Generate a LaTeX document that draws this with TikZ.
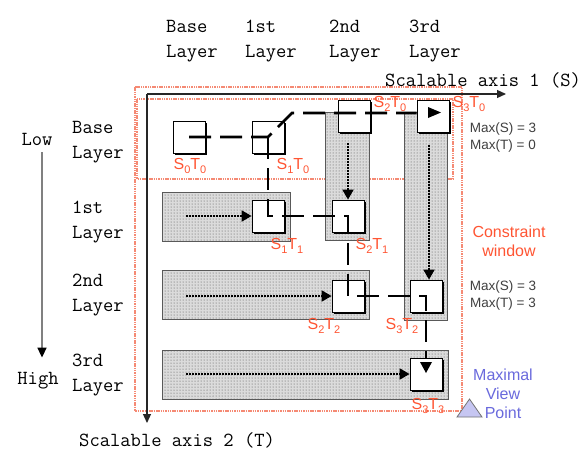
\documentclass[tikz,border=0pt]{standalone}
\usepackage{fontspec}
\newfontfamily\sansfont{Liberation Sans}
\usetikzlibrary{arrows.meta, shadows, patterns, calc}
\definecolor{redtag}{HTML}{FF5533}
\definecolor{winred}{HTML}{F58A74}
\definecolor{viewblue}{HTML}{6A6ADD}
\definecolor{viewfill}{HTML}{C6C6F2}
\definecolor{maxgray}{HTML}{404040}
\newcommand{\stl}[2]{S\raisebox{-4pt}{\fontsize{11}{11}\selectfont#1}T\raisebox{-4pt}{\fontsize{11}{11}\selectfont#2}}

\begin{document}
\begin{tikzpicture}[x=1pt, y=-1pt,
  stage/.style={draw=black, fill=white, minimum size=32pt, inner sep=0pt, line width=0.8pt,
    drop shadow={shadow xshift=2pt, shadow yshift=-2pt, fill=black, opacity=1}},
  band/.style={draw=black!65, line width=0.8pt, preaction={fill=black!14}, pattern=dots, pattern color=black!70},
  window/.style={color=winred, line width=1.1pt, dash pattern=on 1.5pt off 0.8pt},
  axis/.style={draw=black!85, line width=1.2pt, -{Triangle[length=9pt, width=8pt]}},
  route/.style={line width=2.8pt, dash pattern=on 22pt off 9pt},
  probe/.style={line width=1.8pt, dash pattern=on 1.5pt off 1.5pt, -{Triangle[length=10pt, width=11pt]}},
  mono/.style={font=\ttfamily\fontsize{20}{25}\selectfont, inner sep=0pt},
  layer/.style={mono, anchor=north west, align=left},
  tag/.style={text=redtag, font=\sansfont\fontsize{16}{18}\selectfont, inner sep=0pt},
  note/.style={font=\sansfont\fontsize{13.5}{17}\selectfont, text=maxgray, align=center, inner sep=0pt},
]

% Background
\fill[white] (0,0) rectangle (588,453);
\useasboundingbox (0,0) rectangle (588,453);

% Windows
\draw[window] (135,87) rectangle (462,411);
\draw[window] (137,99) rectangle (453,179);

% Layer headings (scalable axis 1)
\node[layer] (hs0) at (166,14.5) {\strut Base\\Layer};
\node[layer] (hs1) at (245,14.5) {\strut 1st\\Layer};
\node[layer] (hs2) at (329,14.5) {\strut 2nd\\Layer};
\node[layer] (hs3) at (409,14.5) {\strut 3rd\\Layer};

% Layer headings (scalable axis 2)
\node[layer] (ht0) at (72,115.5) {\strut Base\\Layer};
\node[layer] (ht1) at (72,195.5) {\strut 1st\\Layer};
\node[layer] (ht2) at (72,268.5) {\strut 2nd\\Layer};
\node[layer] (ht3) at (72,348.5) {\strut 3rd\\Layer};

% Low to high
\node[mono, anchor=base] (low) at (37,145) {Low};
\node[mono, anchor=base] (high) at (38,384) {High};
\draw[black!50, line width=1.6pt, shorten <=7pt, shorten >=14pt, -{Triangle[length=10pt, width=9pt, color=black]}]
  ([xshift=5pt]low.south) -- ([xshift=4pt]high.north);

% Axes
\coordinate (origin) at (147,94);
\coordinate (send) at (506,94);
\coordinate (tend) at (147,423);
\draw[axis] (origin) -- (send);
\draw[axis] (origin) -- (tend);
\node[mono, anchor=base west] (saxis) at (385,86) {Scalable axis 1 (S)};
\node[mono, anchor=base west] (taxis) at (79,446) {Scalable axis 2 (T)};

% Bands
\draw[band] (162,192) rectangle (290,241);
\draw[band] (162,270) rectangle (369,319);
\draw[band] (162,350) rectangle (448,399);
\draw[band] (325,112) rectangle (369,240);
\draw[band] (404,112) rectangle (447,320);

% Stages
\node[stage] (s0t0) at (189,137) {};
\node[stage] (s1t0) at (268,137) {};
\node[stage] (s2t0) at (354,116) {};
\node[stage] (s3t0) at (433,116) {};
\node[stage] (s1t1) at (268,216) {};
\node[stage] (s2t1) at (348,216) {};
\node[stage] (s2t2) at (348,296) {};
\node[stage] (s3t2) at (426,296) {};
\node[stage] (s3t3) at (426,374) {};

% Dotted scans
\coordinate (in1) at (186,216);
\coordinate (in2) at (186,296);
\coordinate (in3) at (186,374);
\draw[probe] (in1) -- (s1t1.west);
\draw[probe] (in2) -- (s2t2.west);
\draw[probe] (in3) -- (s3t3.west);
\draw[probe, shorten <=11pt] (s2t1.north |- s2t0.south) -- (s2t1.north);
\draw[probe, shorten <=13pt] ([xshift=3pt]s3t2.north |- s3t0.south) -- ([xshift=3pt]s3t2.north);

% Route
\coordinate (bend) at (292,113);
\draw[route] (s0t0.center) -- (s1t0.center) -- (bend) -- (bend -| s3t0.west);
\draw[route] (s1t0.center) -- (s1t1.center) -- (s2t1.center) -- (s2t2.center) -- (s3t2.center) -- (s3t2.center |- s3t3.north);
\fill ($(s3t0.center)+(-5,-9)$) -- ++(13,5.5) -- ++(-13,5.5) -- cycle;
\fill ($(s3t3.center)+(-6,-12)$) -- ++(12,0) -- ++(-6,11) -- cycle;

% Tags
\node[tag] (l00) at (190,166) {\stl{0}{0}};
\node[tag] (l10) at (293,166) {\stl{1}{0}};
\node[tag] (l20) at (390,104) {\stl{2}{0}};
\node[tag] (l30) at (469,104) {\stl{3}{0}};
\node[tag] (l11) at (287,246) {\stl{1}{1}};
\node[tag] (l21) at (372,246) {\stl{2}{1}};
\node[tag] (l22) at (324,326) {\stl{2}{2}};
\node[tag] (l32) at (402,326) {\stl{3}{2}};
\node[tag] (l33) at (428,406) {\stl{3}{3}};

% Notes
\node[note] (max0) at (503,138) {Max(S) = 3\\Max(T) = 0};
\node[note] (max3) at (503,295) {Max(S) = 3\\Max(T) = 3};
\node[note, text=redtag, font=\sansfont\fontsize{16}{19}\selectfont] (cwin) at (509,241) {Constraint\\window};
\node[note, text=viewblue, font=\sansfont\fontsize{16}{19}\selectfont] (mvp) at (503,394) {Maximal\\View\\Point};
\draw[fill=viewfill, draw=black!55, line width=0.8pt] (457,417) -- (482,417) -- (469.5,399) -- cycle;

\end{tikzpicture}
\end{document}
